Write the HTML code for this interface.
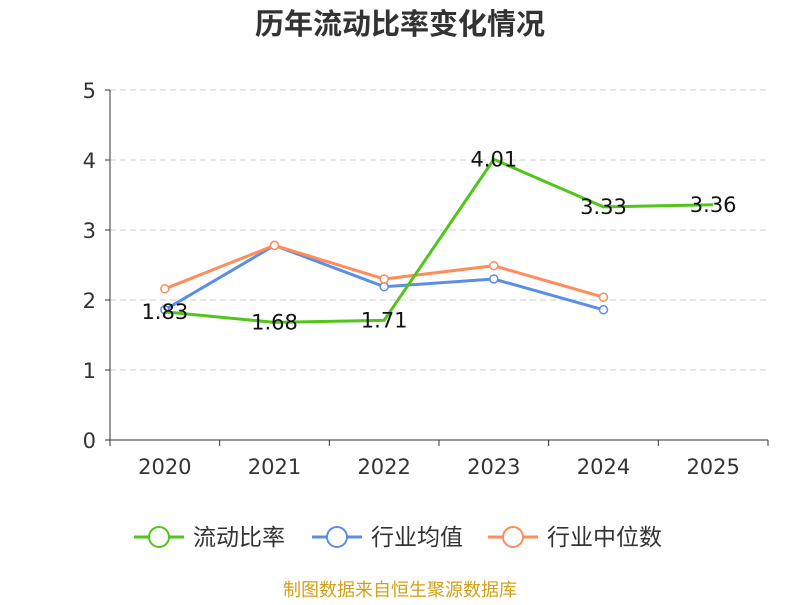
<!DOCTYPE html>
<html><head><meta charset="utf-8"><style>
body{margin:0;background:#fff;}
svg text{font-family:"DejaVu Sans","Noto Sans CJK SC",sans-serif;}
</style></head><body>
<svg id="chart" width="800" height="600">
<text x="400" y="34" text-anchor="middle" font-size="29" font-weight="bold" fill="#333" style="font-family:'Noto Sans CJK SC',sans-serif">历年流动比率变化情况</text>
<g id="grid"></g><g id="axes"></g><g id="series"></g><g id="legend"></g>
<text x="400" y="596" text-anchor="middle" font-size="18" fill="#d4a017" style="font-family:'Noto Sans CJK SC',sans-serif">制图数据来自恒生聚源数据库</text>
</svg>
<script>
const categories=["2020","2021","2022","2023","2024","2025"];
const ratioValues=[1.83,1.68,1.71,4.01,3.33,3.36];
const avgValues=[1.86,2.78,2.19,2.30,1.86,null];
const medianValues=[2.16,2.78,2.30,2.49,2.04,null];
const yTicks=[0,1,2,3,4,5];
const NS="http://www.w3.org/2000/svg";
const L=110,R=768,T=90,B=440,yMax=5;
const bw=(R-L)/categories.length;
const xs=i=>L+bw*(i+0.5);
const ys=v=>B-(v/yMax)*(B-T);
function mk(tag,attrs,parent){const e=document.createElementNS(NS,tag);for(const k in attrs)e.setAttribute(k,attrs[k]);parent.appendChild(e);return e;}
const grid=document.getElementById('grid'),axes=document.getElementById('axes'),ser=document.getElementById('series'),leg=document.getElementById('legend');
yTicks.forEach(t=>{
 if(t>0){const g=mk('line',{x1:L,x2:R,y1:ys(t),y2:ys(t),stroke:'#ccc','stroke-dasharray':'6,4'},grid);
 
 }
 const tk=mk('line',{x1:L-5,x2:L,y1:ys(t),y2:ys(t),stroke:'#333'},axes);
 
 
 const tx=mk('text',{x:L-14,y:ys(t)+8,'text-anchor':'end','font-size':21,fill:'#333'},axes);
 tx.textContent=t;
 
 
});
const ya=mk('line',{x1:L,x2:L,y1:T,y2:B,stroke:'#333'},axes);


const xa=mk('line',{x1:L,x2:R,y1:B,y2:B,stroke:'#333'},axes);


for(let i=0;i<=categories.length;i++){const tk=mk('line',{x1:L+bw*i,x2:L+bw*i,y1:B,y2:B+6,stroke:'#333'},axes);
 
 }
categories.forEach((c,i)=>{const t=mk('text',{x:xs(i),y:B+34,'text-anchor':'middle','font-size':21,fill:'#333'},axes);
 t.textContent=c;
 
 });
function drawSeries(vals,color,name,markers,labels){
 const pts=[];vals.forEach((v,i)=>{if(v!=null)pts.push([xs(i),ys(v),v]);});
 const p=mk('polyline',{points:pts.map(q=>q[0]+','+q[1]).join(' '),fill:'none',stroke:color,'stroke-width':3},ser);
 
 
 pts.forEach(q=>{
  if(markers){const c=mk('circle',{cx:q[0],cy:q[1],r:4,fill:'#fff',stroke:color,'stroke-width':1.5},ser);
  
  }
  if(labels){const t=mk('text',{x:q[0],y:q[1]+7,'text-anchor':'middle','font-size':21,fill:'#111'},ser);
  t.textContent=q[2].toFixed(2);
  
  }
 });
}
drawSeries(avgValues,'#5b8ee6','industry-average',true,false);
drawSeries(medianValues,'#ff8c5a','industry-median',true,false);
drawSeries(ratioValues,'#52c41a','current-ratio',false,true);
const legendNames=["流动比率","行业均值","行业中位数"],legendColors=['#52c41a','#5b8ee6','#ff8c5a'],legendKeys=['current-ratio','industry-average','industry-median'];
const lx=[134,312,488];
legendNames.forEach((n,i)=>{
 const g=mk('g',{},leg);
 
 
 mk('line',{x1:lx[i],x2:lx[i]+50,y1:537,y2:537,stroke:legendColors[i],'stroke-width':3},g);
 mk('circle',{cx:lx[i]+25,cy:537,r:10,fill:'#fff',stroke:legendColors[i],'stroke-width':2},g);
 const t=mk('text',{x:lx[i]+59,y:545,'font-size':23,fill:'#333',style:"font-family:'Noto Sans CJK SC',sans-serif"},g);
 t.textContent=n;
});
</script>
</body></html>
